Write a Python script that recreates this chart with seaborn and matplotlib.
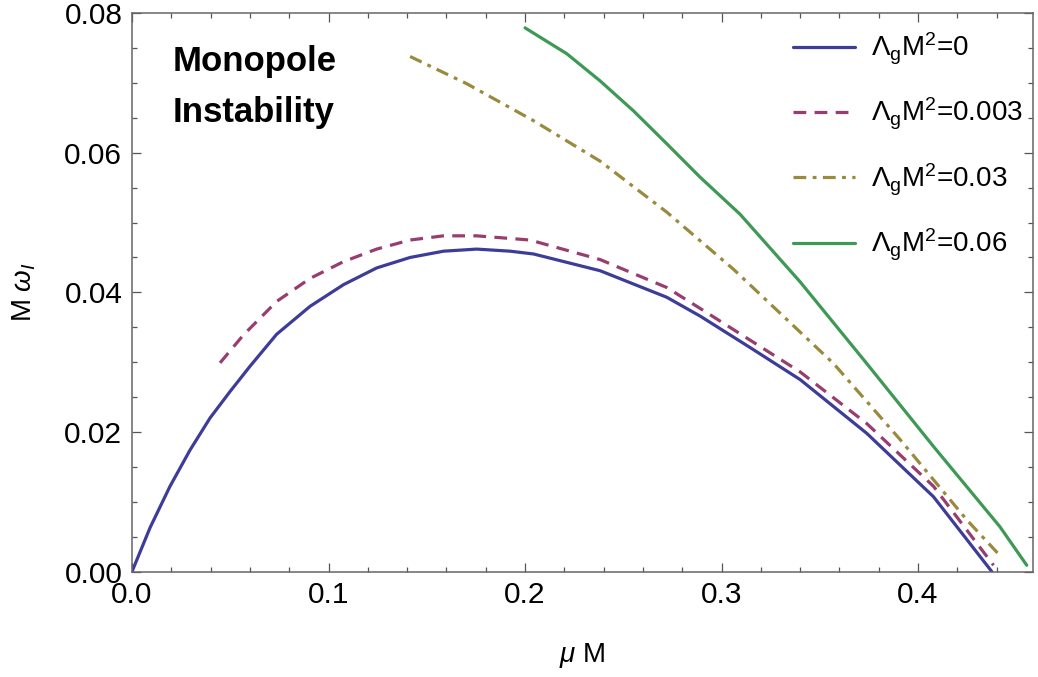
import matplotlib
matplotlib.use("Agg")
import matplotlib.pyplot as plt
import seaborn as sns
from matplotlib.ticker import MultipleLocator

# values
x_0 = [0.0, 0.0092, 0.0193, 0.0295, 0.0397, 0.0499, 0.060, 0.0736, 0.0906, 0.1076, 0.1245,
       0.1415, 0.1585, 0.1754, 0.1924, 0.2043, 0.2382, 0.2721, 0.2891, 0.3145, 0.340, 0.3739,
       0.4079, 0.4375]
y_0 = [0.0, 0.0063, 0.0122, 0.0174, 0.0220, 0.0258, 0.0294, 0.0340, 0.0380, 0.0411, 0.0435,
       0.0450, 0.0459, 0.0462, 0.0459, 0.0455, 0.0431, 0.0393, 0.0366, 0.0321, 0.0275, 0.0198,
       0.0107, 0.0]

x_0003 = [0.0448, 0.0567, 0.0736, 0.0906, 0.1076, 0.1245, 0.1415, 0.1585, 0.1754, 0.2025,
          0.2382, 0.2721, 0.2891, 0.340, 0.3739, 0.4079, 0.4384]
y_0003 = [0.0299, 0.0339, 0.0387, 0.0420, 0.0444, 0.0462, 0.0475, 0.0481, 0.0481, 0.0475,
          0.0447, 0.0407, 0.0377, 0.0286, 0.0212, 0.0122, 0.0009]

x_003 = [0.1415, 0.1703, 0.2043, 0.2382, 0.2721, 0.3061, 0.357, 0.3909, 0.4248, 0.4426]
y_003 = [0.0738, 0.0699, 0.0646, 0.0588, 0.0515, 0.0433, 0.0298, 0.0189, 0.0074, 0.0020]

x_006 = [0.200, 0.2212, 0.2382, 0.2552, 0.2721, 0.2891, 0.3094, 0.340, 0.3739, 0.4079,
         0.4417, 0.4553]
y_006 = [0.0779, 0.0742, 0.0703, 0.0660, 0.0613, 0.0565, 0.0512, 0.0415, 0.0298, 0.0179,
         0.0064, 0.0009]

labels = [r"$\Lambda_{\rm g}{\rm M}^2$=0", r"$\Lambda_{\rm g}{\rm M}^2$=0.003",
          r"$\Lambda_{\rm g}{\rm M}^2$=0.03", r"$\Lambda_{\rm g}{\rm M}^2$=0.06"]

sns.set_theme(style="ticks")
plt.rcParams["font.family"] = ["Liberation Sans", "DejaVu Sans"]
plt.rcParams["mathtext.fontset"] = "custom"
plt.rcParams["mathtext.rm"] = "Liberation Sans"
plt.rcParams["mathtext.it"] = "Liberation Sans:italic"
plt.rcParams["text.color"] = "black"
plt.rcParams["axes.labelcolor"] = "black"

fig = plt.figure(figsize=(10.38, 6.77), dpi=100)
ax = fig.add_axes([0.1272, 0.1558, 0.8680, 0.8247])

lw = 2.3
sns.lineplot(x=x_0, y=y_0, ax=ax, color=(0.24, 0.24, 0.6), lw=lw,
             estimator=None, sort=False, label=labels[0])
sns.lineplot(x=x_0003, y=y_0003, ax=ax, color=(0.6, 0.24, 0.4428), lw=lw,
             estimator=None, sort=False, label=labels[1], linestyle=(0, (4, 2.6)))
sns.lineplot(x=x_003, y=y_003, ax=ax, color=(0.6, 0.547, 0.24), lw=lw,
             estimator=None, sort=False, label=labels[2], linestyle=(0, (4, 2, 1.2, 2)))
sns.lineplot(x=x_006, y=y_006, ax=ax, color=(0.24, 0.6, 0.33), lw=lw,
             estimator=None, sort=False, label=labels[3])

ax.set_xlim(0, 0.4585)
ax.set_ylim(0, 0.08)
ax.xaxis.set_major_locator(MultipleLocator(0.1))
ax.xaxis.set_minor_locator(MultipleLocator(0.02))
ax.yaxis.set_major_locator(MultipleLocator(0.02))
ax.yaxis.set_minor_locator(MultipleLocator(0.005))
ax.xaxis.set_major_formatter(plt.FormatStrFormatter("%.1f"))
ax.yaxis.set_major_formatter(plt.FormatStrFormatter("%.2f"))

for s in ax.spines.values():
    s.set_visible(True)
    s.set_color("#666666")
    s.set_linewidth(1.1)
ax.tick_params(which="both", direction="in", top=True, right=True,
               color="#555555", width=0.9, labelsize=21.5, labelcolor="black")
ax.tick_params(which="major", length=6.5, pad=7)
ax.tick_params(which="minor", length=3.8)

ax.set_xlabel(r"$\mu$ M", fontsize=20, labelpad=23)
ax.set_ylabel(r"M $\omega_I$", fontsize=20, labelpad=19)

ax.text(0.0209, 0.0755, "Monopole\nInstability", fontsize=25, fontweight="bold",
        va="top", ha="left", linespacing=1.7)

ax.legend(loc="upper left", bbox_to_anchor=(0.7336, 0.968), borderaxespad=0, borderpad=0,
          frameon=False, fontsize=20, handlelength=2.25, handletextpad=0.55,
          labelspacing=1.05)

fig.savefig("out.png", dpi=100)
